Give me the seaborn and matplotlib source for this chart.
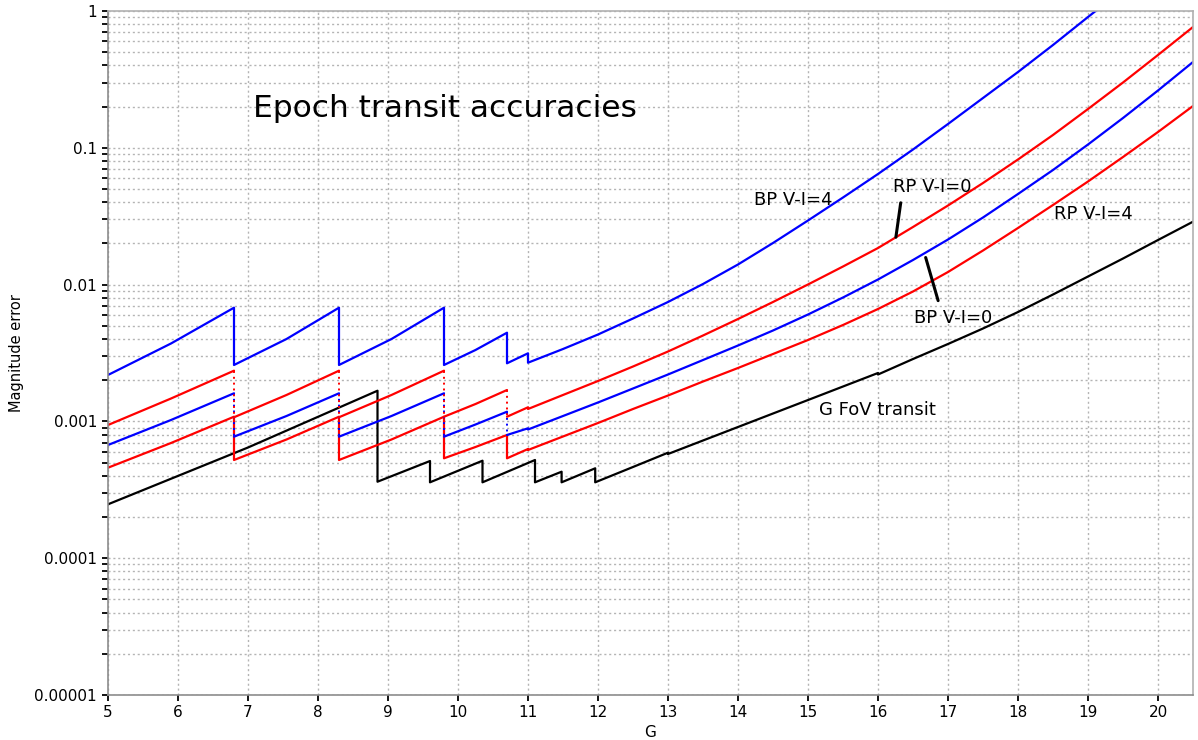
import numpy as np
import pandas as pd
import matplotlib
matplotlib.use("Agg")
import matplotlib.pyplot as plt
import matplotlib.ticker as mticker
import seaborn as sns

''' DATA (read off the reference) '''

# BP, V-I=4 (blue, upper) -- sawtooth with solid drops
bp4_g = [5.0, 5.9, 6.8, 6.8, 7.55, 8.3, 8.3, 9.05, 9.8, 9.8, 10.25, 10.7, 10.7, 11.0,
         11.0, 11.5, 12.0, 12.5, 13.0, 13.5, 14.0, 14.5, 15.0, 15.5, 16.0, 16.5, 17.0,
         17.5, 18.0, 18.5, 19.0, 19.5]
bp4_err = [0.002184, 0.003711, 0.006779, 0.002584, 0.004002, 0.006779, 0.002584, 0.004002,
           0.006779, 0.002584, 0.003326, 0.004450, 0.002659, 0.003146,
           0.002686, 0.003382, 0.004317, 0.005652, 0.007462, 0.01010, 0.01403, 0.02014,
           0.02942, 0.04332, 0.06435, 0.09718, 0.1493, 0.2312, 0.3582, 0.5643, 0.9040, 1.436]

# RP, V-I=0 (red, upper) -- pieces joined by dotted drops
rp0_g = [[5.0, 5.9, 6.8], [6.8, 7.55, 8.3], [8.3, 9.05, 9.8], [9.8, 10.25, 10.7],
         [10.7, 11.0, 11.0, 11.5, 12.0, 12.5, 13.0, 13.5, 14.0, 14.5, 15.0, 15.5, 16.0,
          16.5, 17.0, 17.5, 18.0, 18.5, 19.0, 19.5, 20.0, 20.5]]
rp0_err = [[0.000941, 0.001470, 0.002348], [0.001072, 0.001560, 0.002348],
           [0.001072, 0.001560, 0.002348], [0.001082, 0.001340, 0.001696],
           [0.001082, 0.001268, 0.001232, 0.001560, 0.001974, 0.002519, 0.003243, 0.004245,
            0.005604, 0.007462, 0.01002, 0.01356, 0.01851, 0.02637, 0.03786, 0.05529,
            0.08215, 0.1241, 0.1921, 0.3001, 0.4770, 0.7638]]

# BP, V-I=0 (blue, lower) -- pieces joined by dotted drops
bp0_g = [[5.0, 5.9, 6.8], [6.8, 7.55, 8.3], [8.3, 9.05, 9.8], [9.8, 10.25, 10.7],
         [10.7, 11.0, 11.0, 11.5, 12.0, 12.5, 13.0, 13.5, 14.0, 14.5, 15.0, 15.5, 16.0,
          16.5, 17.0, 17.5, 18.0, 18.5, 19.0, 19.5, 20.0, 20.5]]
bp0_err = [[0.0006722, 0.001024, 0.001605], [0.0007732, 0.001095, 0.001605],
           [0.0007732, 0.001095, 0.001605], [0.0007732, 0.0009491, 0.001177],
           [0.0007955, 0.0008904, 0.0008726, 0.001095, 0.001375, 0.001740, 0.002202,
            0.002810, 0.003587, 0.004618, 0.006045, 0.008049, 0.01090, 0.01513, 0.02136,
            0.03094, 0.04595, 0.06882, 0.1057, 0.1651, 0.2624, 0.4238]]

# RP, V-I=4 (red, lower) -- sawtooth with solid drops
rp4_g = [5.0, 5.9, 6.8, 6.8, 7.55, 8.3, 8.3, 9.05, 9.8, 9.8, 10.25, 10.7, 10.7, 11.0,
         11.0, 11.5, 12.0, 12.5, 13.0, 13.5, 14.0, 14.5, 15.0, 15.5, 16.0, 16.5, 17.0,
         17.5, 18.0, 18.5, 19.0, 19.5, 20.0, 20.5]
rp4_err = [0.0004586, 0.0006952, 0.001082, 0.0005222, 0.0007375, 0.001082, 0.0005222,
           0.0007375, 0.001082, 0.0005374, 0.0006500, 0.0007955, 0.0005374, 0.0006284,
           0.0006179, 0.0007757, 0.0009734, 0.001232, 0.001546, 0.001957, 0.002457,
           0.003109, 0.003936, 0.005066, 0.006632, 0.008904, 0.01236, 0.01775, 0.02593,
           0.03818, 0.05671, 0.08564, 0.1305, 0.2021]

# G, FoV transit (black)
gfov_g = [5.0, 7.0, 8.85, 8.85, 9.6, 9.6, 10.35, 10.35, 11.1, 11.1, 11.48, 11.48, 11.96,
          11.96, 12.5, 13.0, 13.0, 13.5, 14.0, 14.5, 15.0, 15.5, 16.0, 16.0, 16.5, 17.0,
          17.5, 18.0, 18.5, 19.0, 19.5, 20.0, 20.5]
gfov_err = [0.0002477, 0.0006445, 0.001676, 0.0003624, 0.0005134, 0.0003587, 0.0005160,
            0.0003587, 0.0005222, 0.0003587, 0.0004288, 0.0003587, 0.0004541, 0.0003587,
            0.0004642, 0.0005905, 0.0005777, 0.0007252, 0.0009101, 0.001142, 0.001433,
            0.001799, 0.002259, 0.002202, 0.002858, 0.003680, 0.004777, 0.006305,
            0.008464, 0.01146, 0.01551, 0.02118, 0.02883]

y_ticks = [1e-5, 1e-4, 1e-3, 1e-2, 1e-1, 1]
y_ticklabels = ['0.00001', '0.0001', '0.001', '0.01', '0.1', '1']
x_ticks = list(range(5, 21))

''' STYLE '''

sns.set_style("white", {'text.color': 'black', 'axes.labelcolor': 'black',
                        'xtick.color': 'black', 'ytick.color': 'black',
                        'xtick.bottom': True, 'ytick.left': True})
plt.rcParams['font.family'] = ['DejaVu Sans']

fig = plt.figure(figsize=(11.98, 7.4), dpi=100)
ax = fig.add_axes([108 / 1198, 45 / 740, 1085 / 1198, 684 / 740])

LW = 1.6


def draw_solid(g, err, color):
    sns.lineplot(x=g, y=err, sort=False, estimator=None, color=color, lw=LW, ax=ax)


def draw_pieces(g_list, err_list, color):
    for g, err in zip(g_list, err_list):
        draw_solid(g, err, color)
    # dotted drops between consecutive pieces
    for i in range(len(g_list) - 1):
        sns.lineplot(x=[g_list[i][-1], g_list[i + 1][0]],
                     y=[err_list[i][-1], err_list[i + 1][0]],
                     sort=False, estimator=None, color=color, lw=1.4,
                     linestyle=(0, (1, 2)), ax=ax)


draw_solid(gfov_g, gfov_err, 'black')
draw_solid(rp4_g, rp4_err, 'red')
draw_pieces(bp0_g, bp0_err, 'blue')
draw_pieces(rp0_g, rp0_err, 'red')
draw_solid(bp4_g, bp4_err, 'blue')

''' AXES '''

ax.set_yscale('log')
ax.set_xlim(5, 20.5)
ax.set_ylim(1e-5, 1)

ax.yaxis.set_major_locator(mticker.FixedLocator(y_ticks))
ax.yaxis.set_major_formatter(mticker.FixedFormatter(y_ticklabels))
ax.yaxis.set_minor_locator(mticker.LogLocator(base=10, subs=np.arange(2, 10), numticks=20))
ax.yaxis.set_minor_formatter(mticker.NullFormatter())
ax.set_xticks(x_ticks)
ax.set_xticklabels([str(v) for v in x_ticks])

ax.grid(which='major', axis='both', color='#b4b4b4', linestyle=(0, (1.5, 2)), linewidth=1.0)
ax.grid(which='minor', axis='y', color='#b4b4b4', linestyle=(0, (1.5, 2)), linewidth=1.0)
ax.set_axisbelow(True)

for side in ['left', 'bottom']:
    ax.spines[side].set_color('#8c8c8c')
    ax.spines[side].set_linewidth(1.2)
for side in ['top', 'right']:
    ax.spines[side].set_color('#b0b0b0')
    ax.spines[side].set_linewidth(1.2)

ax.tick_params(axis='both', which='both', direction='out', length=4, width=1.3,
               color='black', labelcolor='black', labelsize=11, left=True, bottom=True,
               right=False, top=False)
ax.tick_params(axis='x', which='minor', bottom=False)
ax.tick_params(axis='y', which='major', pad=4)
ax.tick_params(axis='x', which='major', pad=3)

ax.set_xlabel('G', fontsize=11, labelpad=4)
ax.set_ylabel('Magnitude error', fontsize=10.5)
ax.yaxis.set_label_coords(-0.0775, 0.5)

''' LABELS '''

ax.text(9.81, 0.195, 'Epoch transit accuracies', fontsize=22.5, ha='center', va='center')
ax.text(14.79, 0.0415, 'BP V-I=4', fontsize=13, ha='center', va='center')
ax.text(19.07, 0.0328, 'RP V-I=4', fontsize=13, ha='center', va='center')
ax.text(15.99, 0.00121, 'G FoV transit', fontsize=13, ha='center', va='center')
ax.text(16.77, 0.0517, 'RP V-I=0', fontsize=13, ha='center', va='center')
ax.text(17.07, 0.0057, 'BP V-I=0', fontsize=13, ha='center', va='center')
ax.annotate('', xy=(16.25, 0.0212), xytext=(16.33, 0.0415),
            arrowprops=dict(arrowstyle='-', color='black', lw=2.2))
ax.annotate('', xy=(16.67, 0.0165), xytext=(16.87, 0.0073),
            arrowprops=dict(arrowstyle='-', color='black', lw=2.2))

fig.savefig("out.png", dpi=100)
